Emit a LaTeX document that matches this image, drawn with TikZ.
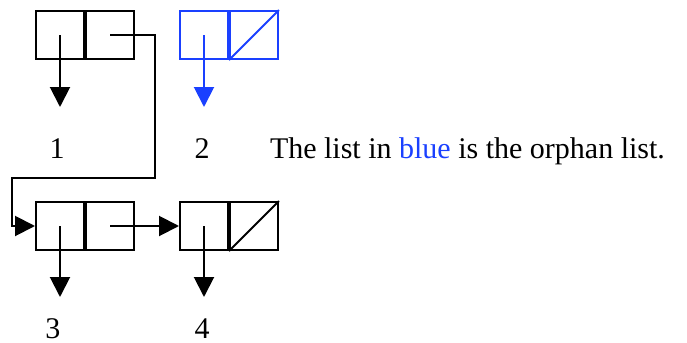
\documentclass[tikz,border=0pt]{standalone}
\usepackage{fontspec}
\setmainfont{Liberation Serif}
\usepackage{xcolor}
\usepackage{tikz}
\usetikzlibrary{arrows.meta, positioning}
\definecolor{orphanColor}{HTML}{1A40FF}

\begin{document}
\begin{tikzpicture}[x=0.5pt, y=-0.5pt, line width=1pt,
    cell/.style={draw, rectangle, minimum width=24pt, minimum height=24pt, inner sep=0pt},
    ptr/.style={-{Triangle[length=10pt, width=10pt]}},
    lbl/.style={anchor=base, inner sep=0pt, font=\fontsize{15}{18}\selectfont}]
    \useasboundingbox (0,0) rectangle (687,343);
    % cons cells
    \node[cell] (a1) at (60,35) {};
    \node[cell, right=0pt of a1] (d1) {};
    \node[cell, orphanColor] (a2) at (204,35) {};
    \node[cell, orphanColor, right=0pt of a2] (d2) {};
    \node[cell] (a3) at (60,226) {};
    \node[cell, right=0pt of a3] (d3) {};
    \node[cell] (a4) at (204,226) {};
    \node[cell, right=0pt of a4] (d4) {};
    % nil pointers
    \draw[orphanColor] (d2.south west) -- (d2.north east);
    \draw (d4.south west) -- (d4.north east);
    % element labels
    \node[lbl] (n1) at (57,158) {1};
    \node[lbl] (n2) at (202,158) {2};
    \node[lbl] (n3) at (53,338) {3};
    \node[lbl] (n4) at (202,338) {4};
    \node[lbl, anchor=base west] (note) at (269,158)
        {The list in \textcolor{orphanColor}{blue} is the orphan list.};
    % car arrows
    \foreach \c/\t in {a1/107, a3/297, a4/297}
        \draw[ptr] (\c.center) -- (\c.center |- 0,\t);
    \draw[ptr, orphanColor] (a2.center) -- (a2.center |- 0,107);
    % cdr links
    \coordinate (bend1) at (155,178);
    \coordinate (bend2) at (12,178);
    \draw[ptr] (d1.center) -| (bend1) -- (bend2) |- (a3.west);
    \draw[ptr] (d3.center) -- (a4.west);
\end{tikzpicture}
\end{document}
